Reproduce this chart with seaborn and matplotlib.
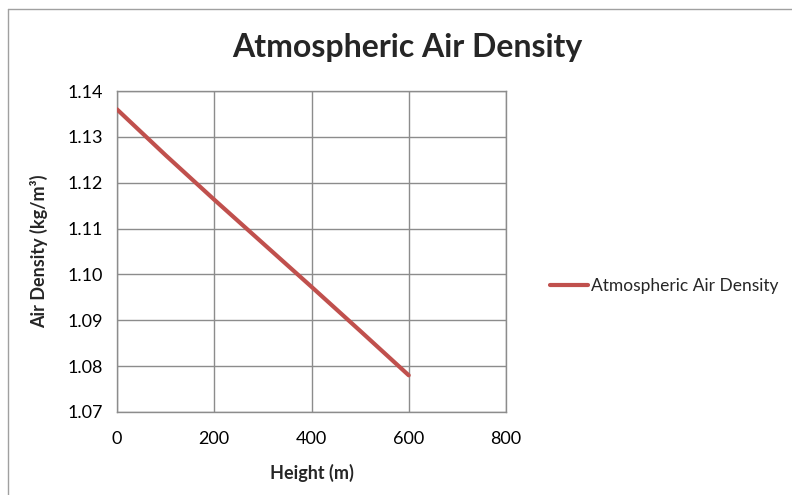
import matplotlib
matplotlib.use("Agg")
import matplotlib.pyplot as plt
import seaborn as sns
import pandas as pd
from matplotlib.lines import Line2D

heights = [0, 100, 200, 300, 400, 500, 600]
density = [1.136, 1.126, 1.1163, 1.1068, 1.0973, 1.0877, 1.078]
series_name = "Atmospheric Air Density"
x_ticks = [0, 200, 400, 600, 800]
y_ticks = [1.07, 1.08, 1.09, 1.10, 1.11, 1.12, 1.13, 1.14]

sns.set_style("white")
plt.rcParams['font.family'] = ['Lato', 'DejaVu Sans']

df = pd.DataFrame({"Height": heights, "Density": density, "Series": series_name})

fig = plt.figure(figsize=(7.92, 4.95), dpi=100)
ax = fig.add_axes([117/792, 1-412/495, (506-117)/792, (412-91)/495])

grid_c = "#8c8c8c"
sns.lineplot(data=df, x="Height", y="Density", hue="Series", palette=["#c0504d"],
             linewidth=3, ax=ax, legend=False, zorder=3)

ax.set_xlim(0, 800)
ax.set_ylim(1.07, 1.14)
ax.set_xticks(x_ticks)
ax.set_yticks(y_ticks)
ax.set_xticklabels([str(v) for v in x_ticks])
ax.set_yticklabels([f"{v:.2f}" for v in y_ticks])
ax.grid(True, color=grid_c, linewidth=1)
ax.set_axisbelow(True)
for s in ax.spines.values():
    s.set_color(grid_c)
    s.set_linewidth(1)
ax.tick_params(axis='both', direction='out', length=5, width=1, color=grid_c,
               labelsize=13, labelcolor="black")
ax.tick_params(axis='x', pad=9)
ax.tick_params(axis='y', pad=5)

ax.set_xlabel("Height (m)", fontsize=13, fontweight='bold', labelpad=12)
ax.set_ylabel("Air Density (kg/m³)", fontsize=13, fontweight='bold', labelpad=14)

fig.text(407/792, 1-47/495, "Atmospheric Air Density", fontsize=23, fontweight='bold',
         ha='center', va='center')

handle = Line2D([], [], color="#c0504d", linewidth=3)
fig.legend([handle], [series_name], loc='center left', bbox_to_anchor=(550/792, 1-286/495),
           frameon=False, fontsize=12.5, handlelength=2.2, handletextpad=0.15,
           borderpad=0, borderaxespad=0)

# outer frame (top and left edges)
fig.add_artist(Line2D([8/792, 1.0], [1-9/495, 1-9/495], transform=fig.transFigure, color="#a0a0a0", linewidth=1))
fig.add_artist(Line2D([8/792, 8/792], [0, 1-9/495], transform=fig.transFigure, color="#a0a0a0", linewidth=1))

fig.savefig("out.png", dpi=100)
